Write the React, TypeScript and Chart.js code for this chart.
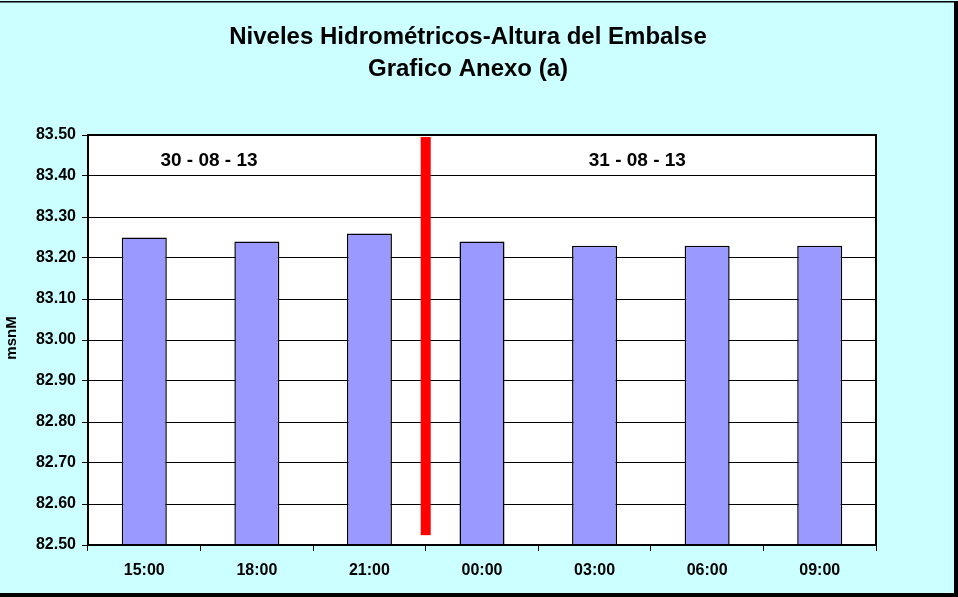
import React, { useEffect, useRef } from "react";
import { Chart, registerables } from "chart.js";

Chart.register(...registerables);

const categories = ["15:00", "18:00", "21:00", "00:00", "03:00", "06:00", "09:00"];
const levels = [83.25, 83.24, 83.26, 83.24, 83.23, 83.23, 83.23];
const yMin = 82.5;
const yMax = 83.5;
const yStep = 0.1;
const titleLines = ["Niveles Hidrométricos-Altura del Embalse", "Grafico Anexo (a)"];
const yAxisTitle = "msnM";
const dateLabels = ["30 - 08 - 13", "31 - 08 - 13"];
const datePositions = [0.575, 4.38];
const dateLevel = 83.437;
const dividerIndex = 2.5;
const dividerRange = [82.524, 83.495];

const FONT = "'Liberation Sans', Arial, sans-serif";

const decorPlugin = {
  id: "decor",
  beforeDraw(chart: any) {
    const { ctx, width, height, chartArea } = chart;
    ctx.save();
    ctx.fillStyle = "#CCFFFF";
    ctx.fillRect(0, 0, width, height);
    ctx.fillStyle = "#000";
    ctx.fillRect(0, 1, width, 1.5);
    ctx.fillRect(width - 4, 1, 4, height);
    ctx.fillRect(0, height - 4, width, 4);
    ctx.fillStyle = "#FFFFFF";
    ctx.fillRect(chartArea.left, chartArea.top, chartArea.right - chartArea.left, chartArea.bottom - chartArea.top);
    ctx.restore();
  },
  afterDraw(chart: any) {
    const { ctx, chartArea } = chart;
    const xs = chart.scales.x;
    const ys = chart.scales.y;
    ctx.save();
    ctx.strokeStyle = "#000";
    ctx.lineWidth = 2;
    ctx.strokeRect(chartArea.left, chartArea.top, chartArea.right - chartArea.left, chartArea.bottom - chartArea.top);
    const dx = xs.getPixelForValue(dividerIndex);
    ctx.fillStyle = "#FF0000";
    const yt = ys.getPixelForValue(dividerRange[1]);
    const yb = ys.getPixelForValue(dividerRange[0]);
    ctx.fillRect(dx - 5, yt, 10, yb - yt);
    ctx.fillStyle = "#000";
    ctx.font = `bold 19px ${FONT}`;
    ctx.textAlign = "center";
    ctx.textBaseline = "middle";
    dateLabels.forEach((t, i) => {
      ctx.fillText(t, xs.getPixelForValue(datePositions[i]), ys.getPixelForValue(dateLevel));
    });
    ctx.font = `bold 24px ${FONT}`;
    ctx.fillText(titleLines[0], 468, 37);
    ctx.fillText(titleLines[1], 468, 69);
    ctx.font = `bold 15px ${FONT}`;
    ctx.translate(12, 338);
    ctx.rotate(-Math.PI / 2);
    ctx.fillText(yAxisTitle, 0, 0);
    ctx.restore();
  },
};

export default function App() {
  const ref = useRef<HTMLCanvasElement>(null);
  useEffect(() => {
    document.body.style.margin = "0";
    const canvas = ref.current!;
    const chart = new Chart(canvas, {
      type: "bar",
      data: {
        labels: categories,
        datasets: [
          {
            data: levels,
            base: yMin,
            backgroundColor: "#9999FF",
            borderColor: "#000000",
            borderWidth: 1.5,
            barPercentage: 0.4,
            categoryPercentage: 1,
          } as any,
        ],
      },
      options: {
        responsive: false,
        animation: false,
        devicePixelRatio: 1,
        layout: { padding: { left: 0, right: 82, top: 135, bottom: 0 } },
        plugins: { legend: { display: false }, title: { display: false }, tooltip: { enabled: false } },
        scales: {
          x: {
            grid: { display: true, drawOnChartArea: false, drawTicks: true, tickLength: 6, color: "#000", offset: true },
            border: { display: false },
            ticks: { color: "#000", font: { family: FONT, size: 16, weight: "bold" }, padding: 10, maxRotation: 0 },
            afterFit: (s: any) => { s.height = 52; },
          },
          y: {
            min: yMin,
            max: yMax,
            grid: { color: "#000", lineWidth: 1, tickLength: 6, drawTicks: true },
            border: { display: false },
            ticks: {
              stepSize: yStep,
              color: "#000",
              padding: 6,
              font: { family: FONT, size: 16, weight: "bold" },
              callback: (v: any) => Number(v).toFixed(2),
            },
            afterFit: (s: any) => { s.width = 88; },
          },
        },
      },
      plugins: [decorPlugin],
    });
    return () => chart.destroy();
  }, []);
  return <canvas ref={ref} width={958} height={597} style={{ display: "block", width: 958, height: 597 }} />;
}
